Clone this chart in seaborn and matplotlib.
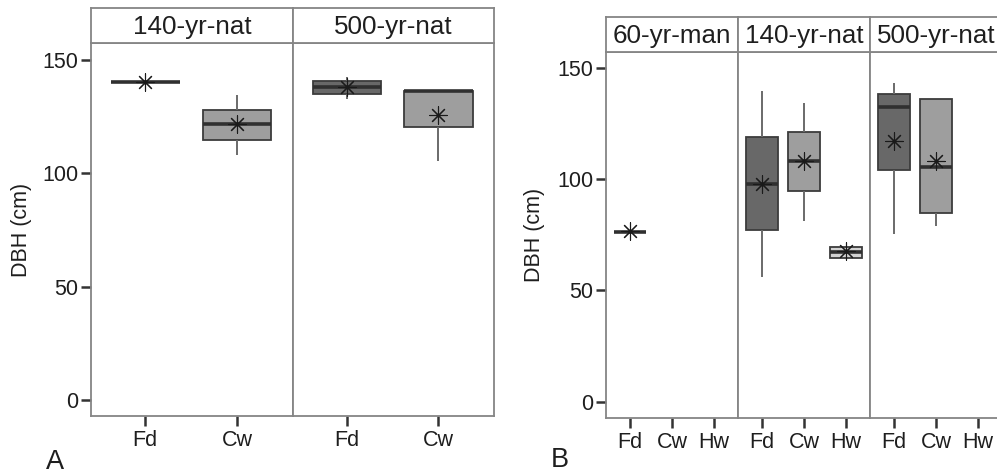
import numpy as np
import pandas as pd
import matplotlib
matplotlib.use("Agg")
import matplotlib.pyplot as plt
import seaborn as sns

sns.set_style("ticks", {'xtick.bottom': True, 'ytick.left': True})
plt.rcParams['font.family'] = ['Liberation Sans', 'DejaVu Sans']

# ---------------- data ----------------
# Panel A
sites_A = ['140-yr-nat', '500-yr-nat']
species_A = ['Fd', 'Cw']
# per site: [Fd, Cw]
A_lo   = {'140-yr-nat': [140.0, 108.0], '500-yr-nat': [132.5, 105.5]}
A_q1   = {'140-yr-nat': [140.0, 114.5], '500-yr-nat': [135.0, 120.5]}
A_med  = {'140-yr-nat': [140.0, 121.5], '500-yr-nat': [138.0, 136.2]}
A_q3   = {'140-yr-nat': [140.0, 128.0], '500-yr-nat': [140.7, 136.2]}
A_hi   = {'140-yr-nat': [140.0, 134.5], '500-yr-nat': [142.5, 136.2]}
A_mean = {'140-yr-nat': [140.0, 121.5], '500-yr-nat': [138.0, 125.7]}

# Panel B
sites_B = ['60-yr-man', '140-yr-nat', '500-yr-nat']
species_B = ['Fd', 'Cw', 'Hw']
B_present = {'60-yr-man': ['Fd'], '140-yr-nat': ['Fd', 'Cw', 'Hw'], '500-yr-nat': ['Fd', 'Cw']}
B_lo   = {'60-yr-man': [76.3], '140-yr-nat': [56.0, 81.0, 64.7], '500-yr-nat': [75.5, 79.0]}
B_q1   = {'60-yr-man': [76.3], '140-yr-nat': [77.0, 94.5, 64.7], '500-yr-nat': [104.0, 84.6]}
B_med  = {'60-yr-man': [76.3], '140-yr-nat': [98.0, 108.0, 67.1], '500-yr-nat': [132.5, 105.5]}
B_q3   = {'60-yr-man': [76.3], '140-yr-nat': [119.0, 121.0, 69.3], '500-yr-nat': [138.0, 135.8]}
B_hi   = {'60-yr-man': [76.3], '140-yr-nat': [139.7, 134.3, 69.3], '500-yr-nat': [143.0, 135.8]}
B_mean = {'60-yr-man': [76.5], '140-yr-nat': [98.0, 108.0, 67.5], '500-yr-nat': [117.0, 108.2]}

yticks = [0, 50, 100, 150]
palette = {'Fd': '#686868', 'Cw': '#9e9e9e', 'Hw': '#d2d2d2'}


def long_frame(sites, present, lo, q1, med, q3, hi):
    rows = []
    for s in sites:
        for i, sp in enumerate(present[s]):
            for v in (lo[s][i], q1[s][i], med[s][i], q3[s][i], hi[s][i]):
                rows.append({'site': s, 'species': sp, 'dbh': v})
    return pd.DataFrame(rows)


def mean_frame(sites, present, mean):
    rows = []
    for s in sites:
        for i, sp in enumerate(present[s]):
            rows.append({'site': s, 'species': sp, 'dbh': mean[s][i]})
    return pd.DataFrame(rows)


present_A = {s: species_A for s in sites_A}
dfA = long_frame(sites_A, present_A, A_lo, A_q1, A_med, A_q3, A_hi)
mA = mean_frame(sites_A, present_A, A_mean)
dfB = long_frame(sites_B, B_present, B_lo, B_q1, B_med, B_q3, B_hi)
mB = mean_frame(sites_B, B_present, B_mean)

W, H = 997, 474
fig = plt.figure(figsize=(W / 100, H / 100), dpi=100)

SPINE = '#858585'
TXT = '#1e1e1e'
FS_TICK = 15.5
FS_STRIP = 18.7
star = (8, 2, 0)
facet_axes = []


def px_axes(x0, x1, y0, y1):
    return fig.add_axes([x0 / W, 1 - y1 / H, (x1 - x0) / W, (y1 - y0) / H])


def draw_facet(ax, sax, data, means, site, order, width, ylim, xlim, first):
    d = data[data.site == site]
    m = means[means.site == site]
    sns.boxplot(data=d, x='species', y='dbh', hue='species', order=order,
                hue_order=order, palette=palette, saturation=1, width=width,
                whis=(0, 100), linecolor='#3c3c3c', linewidth=1.3,
                showcaps=False, legend=False, ax=ax,
                medianprops={'color': '#303030', 'linewidth': 2.6},
                whiskerprops={'color': '#6a6a6a', 'linewidth': 1.4})
    sns.stripplot(data=m, x='species', y='dbh', order=order, jitter=False,
                  color='#1a1a1a', marker=star, size=12.5, linewidth=0.8,
                  ax=ax, legend=False, zorder=5)
    ax.set_xticks(range(len(order)), order)
    ax.set_xlim(*xlim)
    ax.set_ylim(*ylim)
    ax.set_xlabel('')
    ax.set_ylabel('')
    for sp in ax.spines.values():
        sp.set_visible(True)
        sp.set_color(SPINE)
        sp.set_linewidth(1.3)
    if first:
        ax.set_yticks(yticks)
    else:
        ax.set_yticks([])
    facet_axes.append(ax)
    # strip
    sax.set_xticks([])
    sax.set_yticks([])
    sax.set_facecolor('white')
    for sp in sax.spines.values():
        sp.set_visible(True)
        sp.set_color(SPINE)
        sp.set_linewidth(1.3)
    sax.text(0.5, 0.45, site, ha='center', va='center', fontsize=FS_STRIP,
             color=TXT, transform=sax.transAxes)


# Panel A
A_x = [(91, 293), (293, 494)]
for i, s in enumerate(sites_A):
    x0, x1 = A_x[i]
    ax = px_axes(x0, x1, 43, 416)
    sax = px_axes(x0, x1, 8, 43)
    draw_facet(ax, sax, dfA, mA, s, species_A, 0.75, (-7.0, 157.4),
               (-0.59, 1.61), i == 0)
    if i == 0:
        ax.set_ylabel('DBH (cm)', fontsize=15.5, color=TXT)
        ax.yaxis.set_label_coords((32 - 91) / 202, 0.5)

# Panel B
B_x = [(606, 738), (738, 870), (870, 1002)]
for i, s in enumerate(sites_B):
    x0, x1 = B_x[i]
    ax = px_axes(x0, x1, 51.7, 418.3)
    sax = px_axes(x0, x1, 17.3, 51.7)
    draw_facet(ax, sax, dfB, mB, s, species_B, 0.77, (-7.45, 157.2),
               (-0.58, 2.58), i == 0)
    if i == 0:
        ax.set_ylabel('DBH (cm)', fontsize=15.5, color=TXT)
        ax.yaxis.set_label_coords((545 - 606) / 132, 0.5)

for ax in facet_axes:
    ax.tick_params(axis='x', length=7, width=1.8, color='#333333', bottom=True)
    ax.tick_params(axis='y', length=7, width=1.8, color='#333333', left=True)
    ax.tick_params(axis='x', labelsize=FS_TICK, labelcolor=TXT, pad=3)
    ax.tick_params(axis='y', labelsize=FS_TICK, labelcolor=TXT, pad=2)

fig.text(46 / W, 1 - 469 / H, 'A', fontsize=19.5, color=TXT, va='baseline', ha='left')
fig.text(551 / W, 1 - 467 / H, 'B', fontsize=19.5, color=TXT, va='baseline', ha='left')

fig.savefig('out.png', dpi=100)
